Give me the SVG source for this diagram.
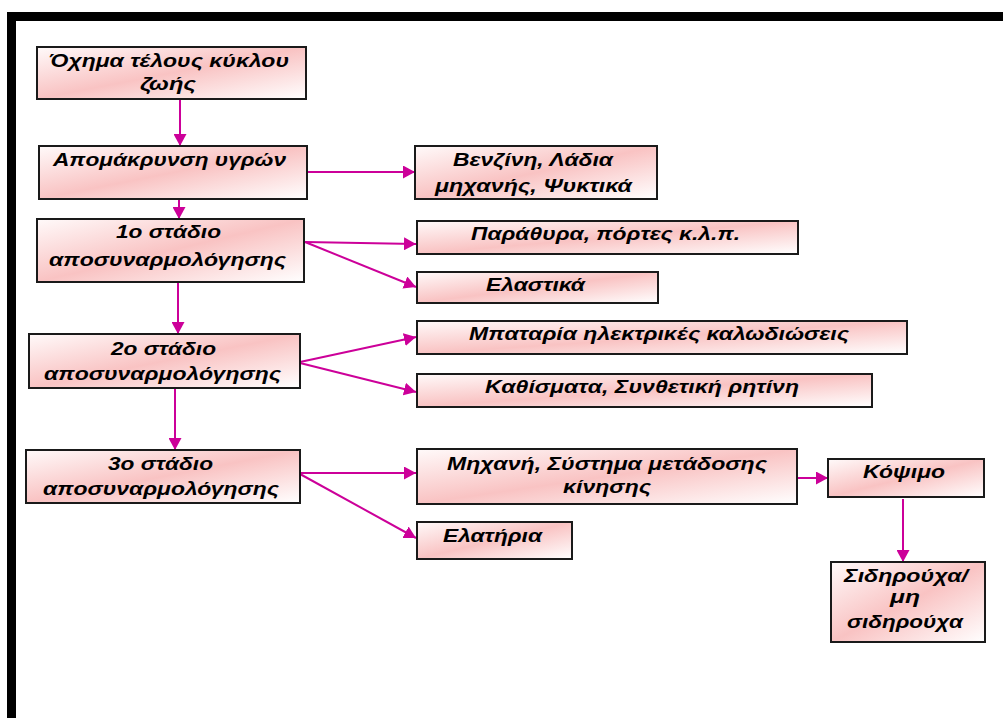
<svg xmlns="http://www.w3.org/2000/svg" width="1003" height="718" viewBox="0 0 1003 718">
<defs>
<linearGradient id="pink" x1="0" y1="0" x2="1" y2="1">
<stop offset="0" stop-color="#FFFAFA"/>
<stop offset="0.5" stop-color="#F9C3C3"/>
<stop offset="1" stop-color="#FFFFFF"/>
</linearGradient>
<marker id="ah" markerUnits="userSpaceOnUse" markerWidth="13" markerHeight="13" refX="12" refY="6.5" orient="auto">
<path d="M0,0 L12,6.5 L0,13 z" fill="#CC0099"/>
</marker>
<style>
.box{fill:url(#pink);stroke:#1a1a1a;stroke-width:2}
.t{font-family:"Liberation Sans",Arial,sans-serif;font-weight:bold;font-style:italic;font-size:18px;fill:#000;text-anchor:middle}
.c{stroke:#CC0099;stroke-width:2;fill:none;marker-end:url(#ah)}
</style>
</defs>
<rect x="0" y="0" width="1003" height="718" fill="#fff"/>
<g id="frame">
<rect x="7" y="12" width="996" height="9" fill="#000"/>
<rect x="7" y="12" width="9" height="706" fill="#000"/>
</g>
<g id="connectors">
<line class="c" x1="180" y1="99" x2="180" y2="146"/>
<line class="c" x1="179" y1="199" x2="179" y2="219"/>
<line class="c" x1="307" y1="172" x2="415" y2="172"/>
<line class="c" x1="305" y1="242" x2="416" y2="244"/>
<line class="c" x1="305" y1="242" x2="416" y2="287"/>
<line class="c" x1="178" y1="282" x2="178" y2="334"/>
<line class="c" x1="300" y1="362" x2="416" y2="337"/>
<line class="c" x1="300" y1="363" x2="416" y2="392"/>
<line class="c" x1="175" y1="388" x2="175" y2="450"/>
<line class="c" x1="300" y1="473" x2="416" y2="473"/>
<line class="c" x1="300" y1="474" x2="416" y2="538"/>
<line class="c" x1="797" y1="478" x2="828" y2="478"/>
<line class="c" x1="903" y1="499" x2="903" y2="562"/>
</g>
<g id="n1">
<rect class="box" x="37" y="47" width="269" height="52"/>
<text class="t" x="169" y="67" textLength="240" lengthAdjust="spacingAndGlyphs">Όχημα τέλους κύκλου</text>
<text class="t" x="168" y="90" textLength="56" lengthAdjust="spacingAndGlyphs">ζωής</text>
</g>
<g id="n2">
<rect class="box" x="39" y="146" width="268" height="53"/>
<text class="t" x="169.5" y="166" textLength="233" lengthAdjust="spacingAndGlyphs">Απομάκρυνση υγρών</text>
</g>
<g id="n3">
<rect class="box" x="415" y="146" width="242" height="53"/>
<text class="t" x="533" y="166" textLength="160" lengthAdjust="spacingAndGlyphs">Βενζίνη, Λάδια</text>
<text class="t" x="533.5" y="192" textLength="197" lengthAdjust="spacingAndGlyphs">μηχανής, Ψυκτικά</text>
</g>
<g id="n4">
<rect class="box" x="37" y="219" width="267" height="63"/>
<text class="t" x="168.5" y="238" textLength="105" lengthAdjust="spacingAndGlyphs">1ο στάδιο</text>
<text class="t" x="167.5" y="266" textLength="237" lengthAdjust="spacingAndGlyphs">αποσυναρμολόγησης</text>
</g>
<g id="n5">
<rect class="box" x="417" y="221" width="381" height="33"/>
<text class="t" x="605.5" y="240" textLength="269" lengthAdjust="spacingAndGlyphs">Παράθυρα, πόρτες κ.λ.π.</text>
</g>
<g id="n6">
<rect class="box" x="417" y="272" width="241" height="31"/>
<text class="t" x="535.5" y="291" textLength="99" lengthAdjust="spacingAndGlyphs">Ελαστικά</text>
</g>
<g id="n7">
<rect class="box" x="29" y="334" width="271" height="54"/>
<text class="t" x="163.5" y="355" textLength="105" lengthAdjust="spacingAndGlyphs">2ο στάδιο</text>
<text class="t" x="162.5" y="380" textLength="237" lengthAdjust="spacingAndGlyphs">αποσυναρμολόγησης</text>
</g>
<g id="n8">
<rect class="box" x="417" y="321" width="490" height="33"/>
<text class="t" x="659" y="340" textLength="380" lengthAdjust="spacingAndGlyphs">Μπαταρία ηλεκτρικές καλωδιώσεις</text>
</g>
<g id="n9">
<rect class="box" x="417" y="374" width="455" height="33"/>
<text class="t" x="642" y="393" textLength="314" lengthAdjust="spacingAndGlyphs">Καθίσματα, Συνθετική ρητίνη</text>
</g>
<g id="n10">
<rect class="box" x="26" y="450" width="274" height="53"/>
<text class="t" x="160.5" y="470" textLength="105" lengthAdjust="spacingAndGlyphs">3ο στάδιο</text>
<text class="t" x="161" y="495" textLength="236" lengthAdjust="spacingAndGlyphs">αποσυναρμολόγησης</text>
</g>
<g id="n11">
<rect class="box" x="417" y="449" width="380" height="55"/>
<text class="t" x="607" y="470" textLength="320" lengthAdjust="spacingAndGlyphs">Μηχανή, Σύστημα μετάδοσης</text>
<text class="t" x="607" y="493" textLength="88" lengthAdjust="spacingAndGlyphs">κίνησης</text>
</g>
<g id="n12">
<rect class="box" x="417" y="522" width="155" height="37"/>
<text class="t" x="492.5" y="542" textLength="99" lengthAdjust="spacingAndGlyphs">Ελατήρια</text>
</g>
<g id="n13">
<rect class="box" x="828" y="459" width="156" height="38"/>
<text class="t" x="904" y="478" textLength="82" lengthAdjust="spacingAndGlyphs">Κόψιμο</text>
</g>
<g id="n14">
<rect class="box" x="831" y="562" width="154" height="80"/>
<text class="t" x="906" y="582" textLength="124" lengthAdjust="spacingAndGlyphs">Σιδηρούχα/</text>
<text class="t" x="905" y="603" textLength="30" lengthAdjust="spacingAndGlyphs">μη</text>
<text class="t" x="905" y="628" textLength="116" lengthAdjust="spacingAndGlyphs">σιδηρούχα</text>
</g>
</svg>
